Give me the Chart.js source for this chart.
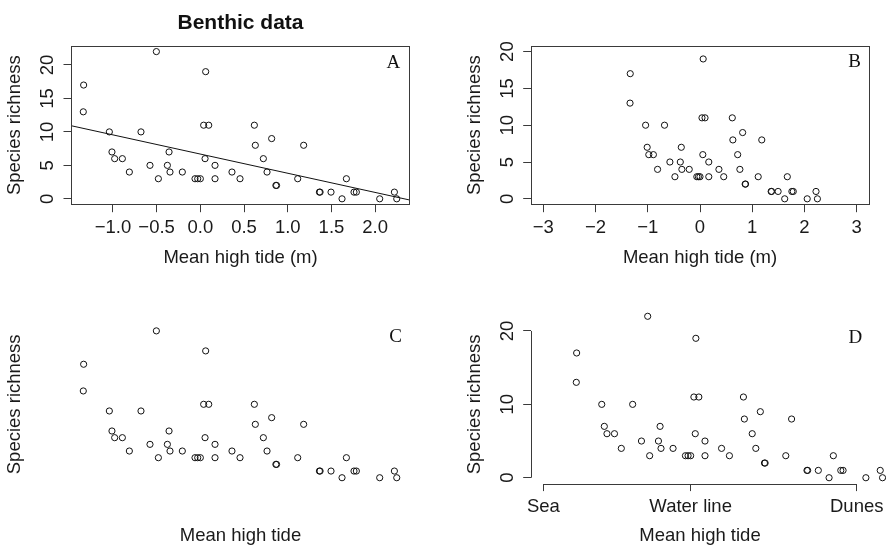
<!DOCTYPE html>
<html><head><meta charset="utf-8">
<script src="https://cdn.jsdelivr.net/npm/chart.js@4.4.1/dist/chart.umd.min.js"></script>
<style>
html,body{margin:0;padding:0;background:#fff;width:886px;height:545px;overflow:hidden}
canvas{position:absolute;display:block}
</style></head><body>
<canvas id="cA" width="443" height="272" style="left:0;top:0;width:443px;height:272px"></canvas>
<canvas id="cB" width="443" height="272" style="left:443px;top:0;width:443px;height:272px"></canvas>
<canvas id="cC" width="443" height="273" style="left:0;top:272px;width:443px;height:273px"></canvas>
<canvas id="cD" width="443" height="273" style="left:443px;top:272px;width:443px;height:273px"></canvas>
<script>
// ---------- data ----------
const tideNAP = [-1.335, -1.339, -0.503, -1.041, -0.679, -1.011, -0.980, -0.892, -0.812, -0.576,
                 -0.480, -0.377, -0.358, -0.347, -0.206, -0.061, -0.030, 0.000, 0.061, 0.038,
                 0.096, 0.054, 0.168, 0.168, 0.362, 0.454, 0.618, 0.629, 0.816, 0.721,
                 0.763, 0.864, 0.872, 1.114, 1.182, 1.362, 1.370, 1.495, 1.621, 1.671,
                 1.758, 1.785, 2.052, 2.220, 2.247];
const richness = [17, 13, 22, 10, 10, 7, 6, 6, 4, 5,
                  3, 5, 7, 4, 4, 3, 3, 3, 19, 11,
                  11, 6, 5, 3, 4, 3, 11, 8, 9, 6,
                  4, 2, 2, 3, 8, 1, 1, 1, 0, 3,
                  1, 1, 0, 1, 0];
const fitIntercept = 6.686;
const fitSlope = -2.867;
const ticksAx = [-1.0, -0.5, 0.0, 0.5, 1.0, 1.5, 2.0];
const ticksAy = [0, 5, 10, 15, 20];
const ticksBx = [-3, -2, -1, 0, 1, 2, 3];
const ticksBy = [0, 5, 10, 15, 20];
const ticksDy = [0, 10, 20];
const zoneTicks = [-1.725, 0, 1.945];
const zoneLabels = ['Sea', 'Water line', 'Dunes'];
const mainTitle = 'Benthic data';
const yTitle = 'Species richness';
const xTitleUnits = 'Mean high tide (m)';
const xTitlePlain = 'Mean high tide';
const panelLetters = ['A', 'B', 'C', 'D'];

// ---------- styling ----------
const FONT = '"Liberation Sans", Arial, Helvetica, sans-serif';
const SERIF = '"Liberation Serif", "Times New Roman", serif';
const TEXT = '#1a1a1a';
const AXIS = '#3a3a3a';
const FS = 18.5;
Chart.defaults.font.family = FONT;
Chart.defaults.color = TEXT;

const points = tideNAP.map((x, i) => ({x: x, y: richness[i]}));
const minusFmt = d => v => (v < 0 ? '\u2212' : '') + Math.abs(v).toFixed(d);

function fixedTicks(values) { return s => { s.ticks = values.map(v => ({value: v})); }; }
function sized(prop, size) {
  return s => { s[prop] = size; s.paddingLeft = 0; s.paddingRight = 0; s.paddingTop = 0; s.paddingBottom = 0; };
}
function makeX(o) {
  const has = !!o.ticks;
  return {
    type: 'linear', min: o.min, max: o.max,
    afterBuildTicks: has ? fixedTicks(o.ticks) : undefined,
    afterFit: sized('height', o.height),
    grid: {display: has, drawOnChartArea: false, drawTicks: true, tickLength: 7.5, color: AXIS, lineWidth: 1},
    border: {display: false},
    ticks: {display: has, autoSkip: false, maxRotation: 0, minRotation: 0, padding: 5,
            font: {size: FS}, color: TEXT, callback: o.fmt},
    title: {display: true, text: o.title, color: TEXT, font: {size: FS, lineHeight: 1},
            padding: {top: 0, bottom: o.titlePad}}
  };
}
function makeY(o) {
  const has = !!o.ticks;
  return {
    type: 'linear', min: o.min, max: o.max,
    afterBuildTicks: has ? fixedTicks(o.ticks) : undefined,
    afterFit: sized('width', o.width),
    grid: {display: has, drawOnChartArea: false, drawTicks: true, tickLength: 7.5, color: AXIS, lineWidth: 1},
    border: {display: false},
    ticks: {display: false, callback: v => String(v)},
    title: {display: true, text: yTitle, color: TEXT, font: {size: FS, lineHeight: 1},
            padding: {top: o.titlePad, bottom: 0}}
  };
}

const rStyle = {
  id: 'rStyle',
  afterDatasetsDraw(chart, args, o) {
    const ctx = chart.ctx, ca = chart.chartArea;
    const xs = chart.scales.x, ys = chart.scales.y;
    ctx.save();
    // points lying outside the plot region (drawn with xpd in the original)
    if (o.overflow) {
      const big = {left: -1e5, top: -1e5, right: 1e5, bottom: 1e5};
      chart.getSortedVisibleDatasetMetas().forEach(meta => {
        meta.data.forEach(el => {
          const m = (el.options.radius || 0) + (el.options.borderWidth || 0);
          const inside = el.x > ca.left - m && el.x < ca.right + m && el.y > ca.top - m && el.y < ca.bottom + m;
          if (!inside) el.draw(ctx, big);
        });
      });
    }
    ctx.strokeStyle = AXIS; ctx.lineWidth = 1;
    if (o.box) {
      ctx.strokeRect(Math.round(ca.left) + 0.5, Math.round(ca.top) + 0.5,
                     Math.round(ca.right - ca.left) - 1, Math.round(ca.bottom - ca.top) - 1);
    }
    if (o.partial) {
      const x0 = xs.getPixelForValue(xs.ticks[0].value), x1 = xs.getPixelForValue(xs.ticks[xs.ticks.length - 1].value);
      const y0 = ys.getPixelForValue(ys.ticks[0].value), y1 = ys.getPixelForValue(ys.ticks[ys.ticks.length - 1].value);
      const by = Math.round(ca.bottom) + 0.5, lx = Math.round(ca.left) + 0.5;
      ctx.beginPath();
      ctx.moveTo(x0, by); ctx.lineTo(x1, by);
      ctx.moveTo(lx, y0); ctx.lineTo(lx, y1);
      ctx.stroke();
    }
    if (o.yLabels) {
      ctx.fillStyle = TEXT; ctx.font = FS + 'px ' + FONT;
      ctx.textAlign = 'center'; ctx.textBaseline = 'middle';
      for (const t of ys.ticks) {
        const py = ys.getPixelForValue(t.value);
        ctx.save(); ctx.translate(ca.left - 23, py); ctx.rotate(-Math.PI / 2);
        ctx.fillText(t.label != null ? t.label : String(t.value), 0, 0);
        ctx.restore();
      }
    }
    if (o.letter) {
      ctx.fillStyle = '#111'; ctx.font = '19px ' + SERIF;
      ctx.textAlign = 'center'; ctx.textBaseline = 'middle';
      ctx.fillText(o.letter, ca.right - o.dx, ca.top + o.dy);
    }
    ctx.restore();
  }
};

function scatterSet(clip) {
  return {type: 'scatter', data: points, pointStyle: 'circle', pointRadius: 3.1, pointHoverRadius: 3.1,
          borderWidth: 1, borderColor: '#111', backgroundColor: 'rgba(0,0,0,0)', clip: clip};
}
function baseOptions(extra) {
  return Object.assign({
    responsive: false, animation: false, devicePixelRatio: 1,
    events: [],
    plugins: {legend: {display: false}, tooltip: {enabled: false}, title: {display: false}}
  }, extra);
}

// ---------- Panel A ----------
const A_X = [-1.4796, 2.3986], A_Y = [-0.88, 22.88];
new Chart(document.getElementById('cA'), {
  type: 'scatter',
  data: {datasets: [
    scatterSet(undefined),
    {type: 'line', data: A_X.map(x => ({x: x, y: fitIntercept + fitSlope * x})),
     borderColor: '#111', borderWidth: 1, pointRadius: 0, fill: false}
  ]},
  options: baseOptions({
    layout: {padding: {left: 0, right: 33, top: 0, bottom: 0}},
    plugins: {legend: {display: false}, tooltip: {enabled: false},
      title: {display: true, text: mainTitle, fullSize: false, color: '#111',
              font: {size: 21, weight: 'bold', family: FONT, lineHeight: 1.2},
              padding: {top: 10.8, bottom: 9.7}},
      rStyle: {box: true, yLabels: true, letter: panelLetters[0], dx: 16.7, dy: 17.6}},
    scales: {
      x: makeX({min: A_X[0], max: A_X[1], ticks: ticksAx, fmt: minusFmt(1), height: 67.3, title: xTitleUnits, titlePad: 4.75}),
      y: makeY({min: A_Y[0], max: A_Y[1], ticks: ticksAy, width: 71, titlePad: 6})
    }
  }),
  plugins: [rStyle]
});

// ---------- Panel B ----------
new Chart(document.getElementById('cB'), {
  type: 'scatter',
  data: {datasets: [scatterSet(undefined)]},
  options: baseOptions({
    layout: {padding: {left: 0, right: 16.7, top: 45.7, bottom: 0}},
    plugins: {legend: {display: false}, tooltip: {enabled: false}, title: {display: false},
      rStyle: {box: true, yLabels: true, letter: panelLetters[1], dx: 14.6, dy: 16.6}},
    scales: {
      x: makeX({min: -3.24, max: 3.24, ticks: ticksBx, fmt: minusFmt(0), height: 67.3, title: xTitleUnits, titlePad: 4.75}),
      y: makeY({min: -0.8, max: 20.8, ticks: ticksBy, width: 87.7, titlePad: 23})
    }
  }),
  plugins: [rStyle]
});

// ---------- Panel C ----------
new Chart(document.getElementById('cC'), {
  type: 'scatter',
  data: {datasets: [scatterSet(undefined)]},
  options: baseOptions({
    layout: {padding: {left: 0, right: 33, top: 53, bottom: 0}},
    plugins: {legend: {display: false}, tooltip: {enabled: false}, title: {display: false},
      rStyle: {letter: panelLetters[2], dx: 14.3, dy: 12.3}},
    scales: {
      x: makeX({min: A_X[0], max: A_X[1], height: 61.4, title: xTitlePlain, titlePad: 0.2}),
      y: makeY({min: A_Y[0], max: A_Y[1], width: 71, titlePad: 6})
    }
  }),
  plugins: [rStyle]
});

// ---------- Panel D ----------
new Chart(document.getElementById('cD'), {
  type: 'scatter',
  data: {datasets: [scatterSet(false)]},
  options: baseOptions({
    layout: {padding: {left: 0, right: 16.7, top: 53.1, bottom: 0}},
    plugins: {legend: {display: false}, tooltip: {enabled: false}, title: {display: false},
      rStyle: {partial: true, overflow: true, yLabels: true, letter: panelLetters[3], dx: 14, dy: 12.6}},
    scales: {
      x: makeX({min: -1.873, max: 2.092, ticks: zoneTicks, fmt: (v, i) => zoneLabels[i], height: 61.4, title: xTitlePlain, titlePad: 0.2}),
      y: makeY({min: -0.8, max: 20.8, ticks: ticksDy, width: 87.7, titlePad: 23})
    }
  }),
  plugins: [rStyle]
});
</script>
</body></html>
